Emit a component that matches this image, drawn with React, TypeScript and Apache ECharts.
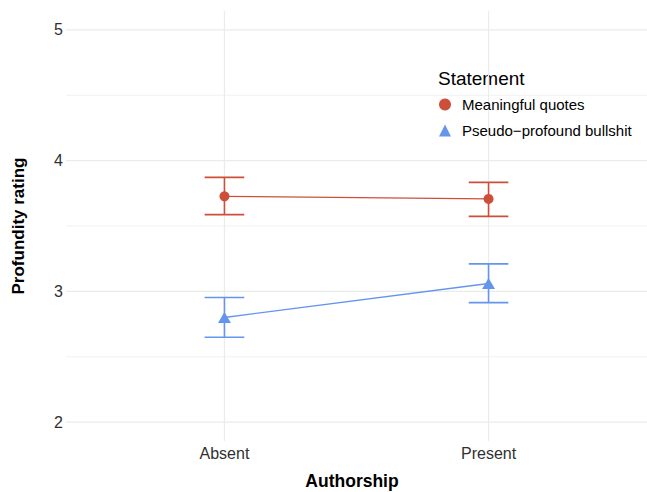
import React, { useEffect, useRef } from "react";
import * as echarts from "echarts";

const categories = ["Absent", "Present"];
const meaningfulMean = [3.727, 3.707];
const meaningfulLow = [3.587, 3.574];
const meaningfulHigh = [3.872, 3.834];
const bullshitMean = [2.8, 3.06];
const bullshitLow = [2.649, 2.914];
const bullshitHigh = [2.953, 3.21];
const yMajorTicks = [2, 3, 4, 5];
const yMinorTicks = [2.5, 3.5, 4.5];
const seriesNames = ["Meaningful quotes", "Pseudo\u2212profound bullshit"];

const RED = "#cd4f39";
const BLUE = "#6495ed";
const FONT = "Liberation Sans, Arial, sans-serif";

export default function App() {
  const ref = useRef<HTMLDivElement>(null);
  useEffect(() => {
    if (!ref.current) return;
    const chart = echarts.init(ref.current, null, { renderer: "svg" });

    const gridData: any[] = [];
    yMajorTicks.forEach((v) => gridData.push(["h", v, 1]));
    yMinorTicks.forEach((v) => gridData.push(["h", v, 0]));
    categories.forEach((_, i) => gridData.push(["v", i, 1]));

    const errData = (low: number[], high: number[]) =>
      categories.map((_, i) => [i, low[i], high[i]]);

    const errRender = (color: string) => (params: any, api: any) => {
      const x = api.value(0);
      const lo = api.value(1);
      const hi = api.value(2);
      const pLo = api.coord([x, lo]);
      const pHi = api.coord([x, hi]);
      const cl = api.coord([x - 0.075, lo]);
      const cr = api.coord([x + 0.075, lo]);
      const half = (cr[0] - cl[0]) / 2;
      const style = { stroke: color, lineWidth: 1.6 };
      return {
        type: "group",
        children: [
          { type: "line", shape: { x1: pLo[0], y1: pLo[1], x2: pHi[0], y2: pHi[1] }, style },
          { type: "line", shape: { x1: pLo[0] - half, y1: pLo[1], x2: pLo[0] + half, y2: pLo[1] }, style },
          { type: "line", shape: { x1: pHi[0] - half, y1: pHi[1], x2: pHi[0] + half, y2: pHi[1] }, style },
        ],
      };
    };

    const option: any = {
      animation: false,
      backgroundColor: "#ffffff",
      grid: { left: 66, top: 11, width: 585, height: 430 },
      xAxis: { type: "value", min: -0.6, max: 1.6, show: false },
      yAxis: { type: "value", min: 1.855, max: 5.145, show: false },
      legend: {
        orient: "vertical",
        left: 434,
        top: 92,
        itemWidth: 12,
        itemHeight: 12,
        itemGap: 11,
        textStyle: { fontFamily: FONT, fontSize: 15, color: "#000", padding: [0, 0, 0, 6] },
        data: [
          { name: seriesNames[0], icon: "circle" },
          { name: seriesNames[1], icon: "triangle" },
        ],
      },
      graphic: [
        {
          type: "text",
          left: 438,
          top: 69,
          style: { text: "Statement", fontFamily: FONT, fontSize: 19, fill: "#000" },
        },
        {
          type: "text",
          x: 352,
          y: 481,
          style: {
            text: "Authorship",
            fontFamily: FONT,
            fontSize: 17.5,
            fontWeight: "bold",
            fill: "#000",
            align: "center",
            verticalAlign: "middle",
          },
        },
        {
          type: "text",
          x: 18,
          y: 226,
          rotation: Math.PI / 2,
          style: {
            text: "Profundity rating",
            fontFamily: FONT,
            fontSize: 17,
            fontWeight: "bold",
            fill: "#000",
            align: "center",
            verticalAlign: "middle",
          },
        },
      ],
      series: [
        {
          type: "custom",
          name: "grid",
          silent: true,
          clip: true,
          z: 0,
          data: gridData,
          renderItem: (params: any, api: any) => {
            const kind = gridData[params.dataIndex][0];
            const v = api.value(1);
            const major = api.value(2) === 1;
            const cs = params.coordSys;
            const style = { stroke: "#ebebeb", lineWidth: major ? 1.2 : 0.7 };
            if (kind === "h") {
              const y = api.coord([0, v])[1];
              return { type: "line", shape: { x1: cs.x, y1: y, x2: cs.x + cs.width, y2: y }, style };
            }
            const x = api.coord([v, 2])[0];
            return { type: "line", shape: { x1: x, y1: cs.y, x2: x, y2: cs.y + cs.height }, style };
          },
        },
        {
          type: "custom",
          name: "ylabels",
          silent: true,
          clip: false,
          z: 1,
          data: yMajorTicks.map((v) => [0, v]),
          renderItem: (params: any, api: any) => {
            const cs = params.coordSys;
            const y = api.coord([0, api.value(1)])[1];
            return {
              type: "text",
              x: cs.x - 3,
              y,
              style: {
                text: String(api.value(1)),
                fontFamily: FONT,
                fontSize: 16,
                fill: "#303030",
                align: "right",
                verticalAlign: "middle",
              },
            };
          },
        },
        {
          type: "custom",
          name: "xlabels",
          silent: true,
          clip: false,
          z: 1,
          data: categories.map((_, i) => [i, 2]),
          renderItem: (params: any, api: any) => {
            const cs = params.coordSys;
            const x = api.coord([api.value(0), 2])[0];
            return {
              type: "text",
              x,
              y: cs.y + cs.height + 12,
              style: {
                text: categories[params.dataIndex],
                fontFamily: FONT,
                fontSize: 16,
                fill: "#303030",
                align: "center",
                verticalAlign: "middle",
              },
            };
          },
        },
        {
          type: "custom",
          name: "errM",
          silent: true,
          z: 2,
          data: errData(meaningfulLow, meaningfulHigh),
          renderItem: errRender(RED),
        },
        {
          type: "custom",
          name: "errB",
          silent: true,
          z: 2,
          data: errData(bullshitLow, bullshitHigh),
          renderItem: errRender(BLUE),
        },
        {
          type: "line",
          name: seriesNames[0],
          z: 3,
          data: categories.map((_, i) => [i, meaningfulMean[i]]),
          symbol: "circle",
          symbolSize: 10,
          itemStyle: { color: RED },
          lineStyle: { color: RED, width: 1.3 },
        },
        {
          type: "line",
          name: seriesNames[1],
          z: 3,
          data: categories.map((_, i) => [i, bullshitMean[i]]),
          symbol: "triangle",
          symbolSize: [13, 11],
          itemStyle: { color: BLUE },
          lineStyle: { color: BLUE, width: 1.3 },
        },
      ],
    };
    chart.setOption(option);
    return () => chart.dispose();
  }, []);
  return (
    <div
      ref={ref}
      style={{ position: "fixed", left: 0, top: 0, width: 647, height: 492, background: "#fff" }}
    />
  );
}
